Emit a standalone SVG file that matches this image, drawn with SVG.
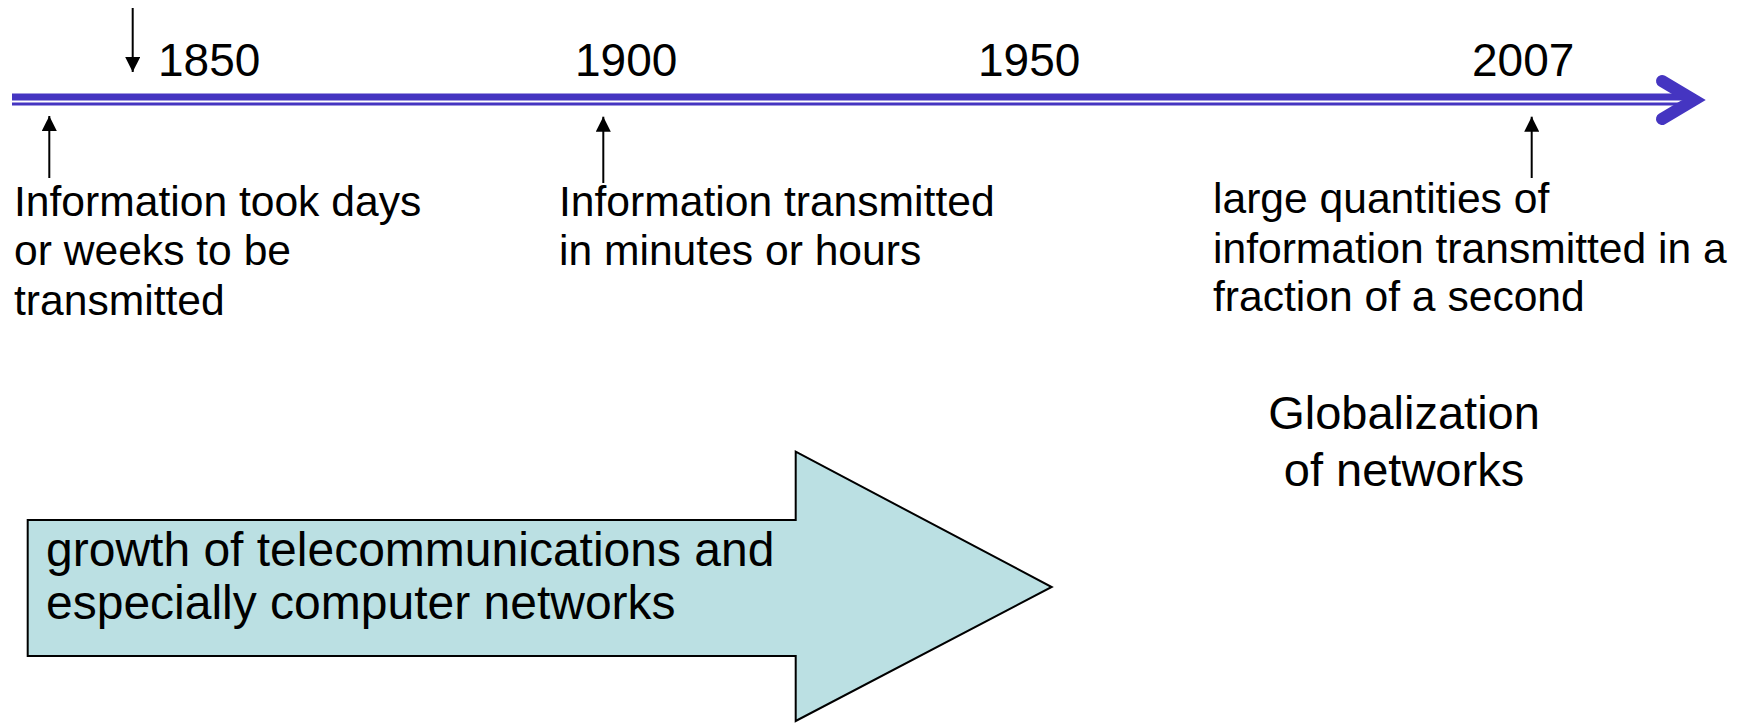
<svg xmlns="http://www.w3.org/2000/svg" width="1747" height="723" viewBox="0 0 1747 723">
<defs>
<style>
.t{font-family:"Liberation Sans",Arial,sans-serif;fill:#000}
.yr{font-size:46px}
.gl{font-size:47px}
.lb{font-size:42.6px}
.big{font-size:48px}
.ar{stroke:#000;stroke-width:2;fill:none}
</style>
<marker id="ah" viewBox="0 0 10 10" refX="10" refY="5" markerWidth="7.5" markerHeight="7.5" markerUnits="strokeWidth" orient="auto">
<path d="M0,0 L10,5 L0,10 z" fill="#000"/>
</marker>
</defs>
<rect width="1747" height="723" fill="#fff"/>
<g id="timeline">
<rect x="12" y="93.5" width="1672" height="7" fill="#4535C1"/>
<rect x="12" y="102.5" width="1672" height="3" fill="#4535C1"/>
<polyline points="1662,81 1694,100 1662,119" fill="none" stroke="#4535C1" stroke-width="12" stroke-linecap="round" stroke-linejoin="miter"/>
</g>
<g id="years">
<text class="t yr" x="158" y="76">1850</text>
<text class="t yr" x="575" y="76">1900</text>
<text class="t yr" x="978" y="76">1950</text>
<text class="t yr" x="1472" y="76">2007</text>
</g>
<g id="connectors">
<line class="ar" x1="132.7" y1="8" x2="132.7" y2="72" marker-end="url(#ah)"/>
<line class="ar" x1="49.3" y1="178" x2="49.3" y2="116" marker-end="url(#ah)"/>
<line class="ar" x1="603.3" y1="183" x2="603.3" y2="116.7" marker-end="url(#ah)"/>
<line class="ar" x1="1531.7" y1="178" x2="1531.7" y2="116.7" marker-end="url(#ah)"/>
</g>
<g id="label-1850">
<text class="t lb" x="14" y="216">Information took days</text>
<text class="t lb" x="14" y="265">or weeks to be</text>
<text class="t lb" x="14" y="315">transmitted</text>
</g>
<g id="label-1900">
<text class="t lb" x="559" y="216">Information transmitted</text>
<text class="t lb" x="559" y="265">in minutes or hours</text>
</g>
<g id="label-2007">
<text class="t lb" x="1213" y="213">large quantities of</text>
<text class="t lb" x="1213" y="263">information transmitted in a</text>
<text class="t lb" x="1213" y="311">fraction of a second</text>
</g>
<g id="globalization">
<text class="t gl" x="1404" y="429" text-anchor="middle">Globalization</text>
<text class="t gl" x="1404" y="486" text-anchor="middle">of networks</text>
</g>
<g id="growth-arrow">
<polygon points="27.7,520 795.7,520 795.7,451.7 1051.7,587 795.7,721 795.7,656 27.7,656" fill="#BBE0E3" stroke="#000" stroke-width="2"/>
<text class="t big" x="46" y="566">growth of telecommunications and</text>
<text class="t big" x="46" y="619">especially computer networks</text>
</g>
</svg>
